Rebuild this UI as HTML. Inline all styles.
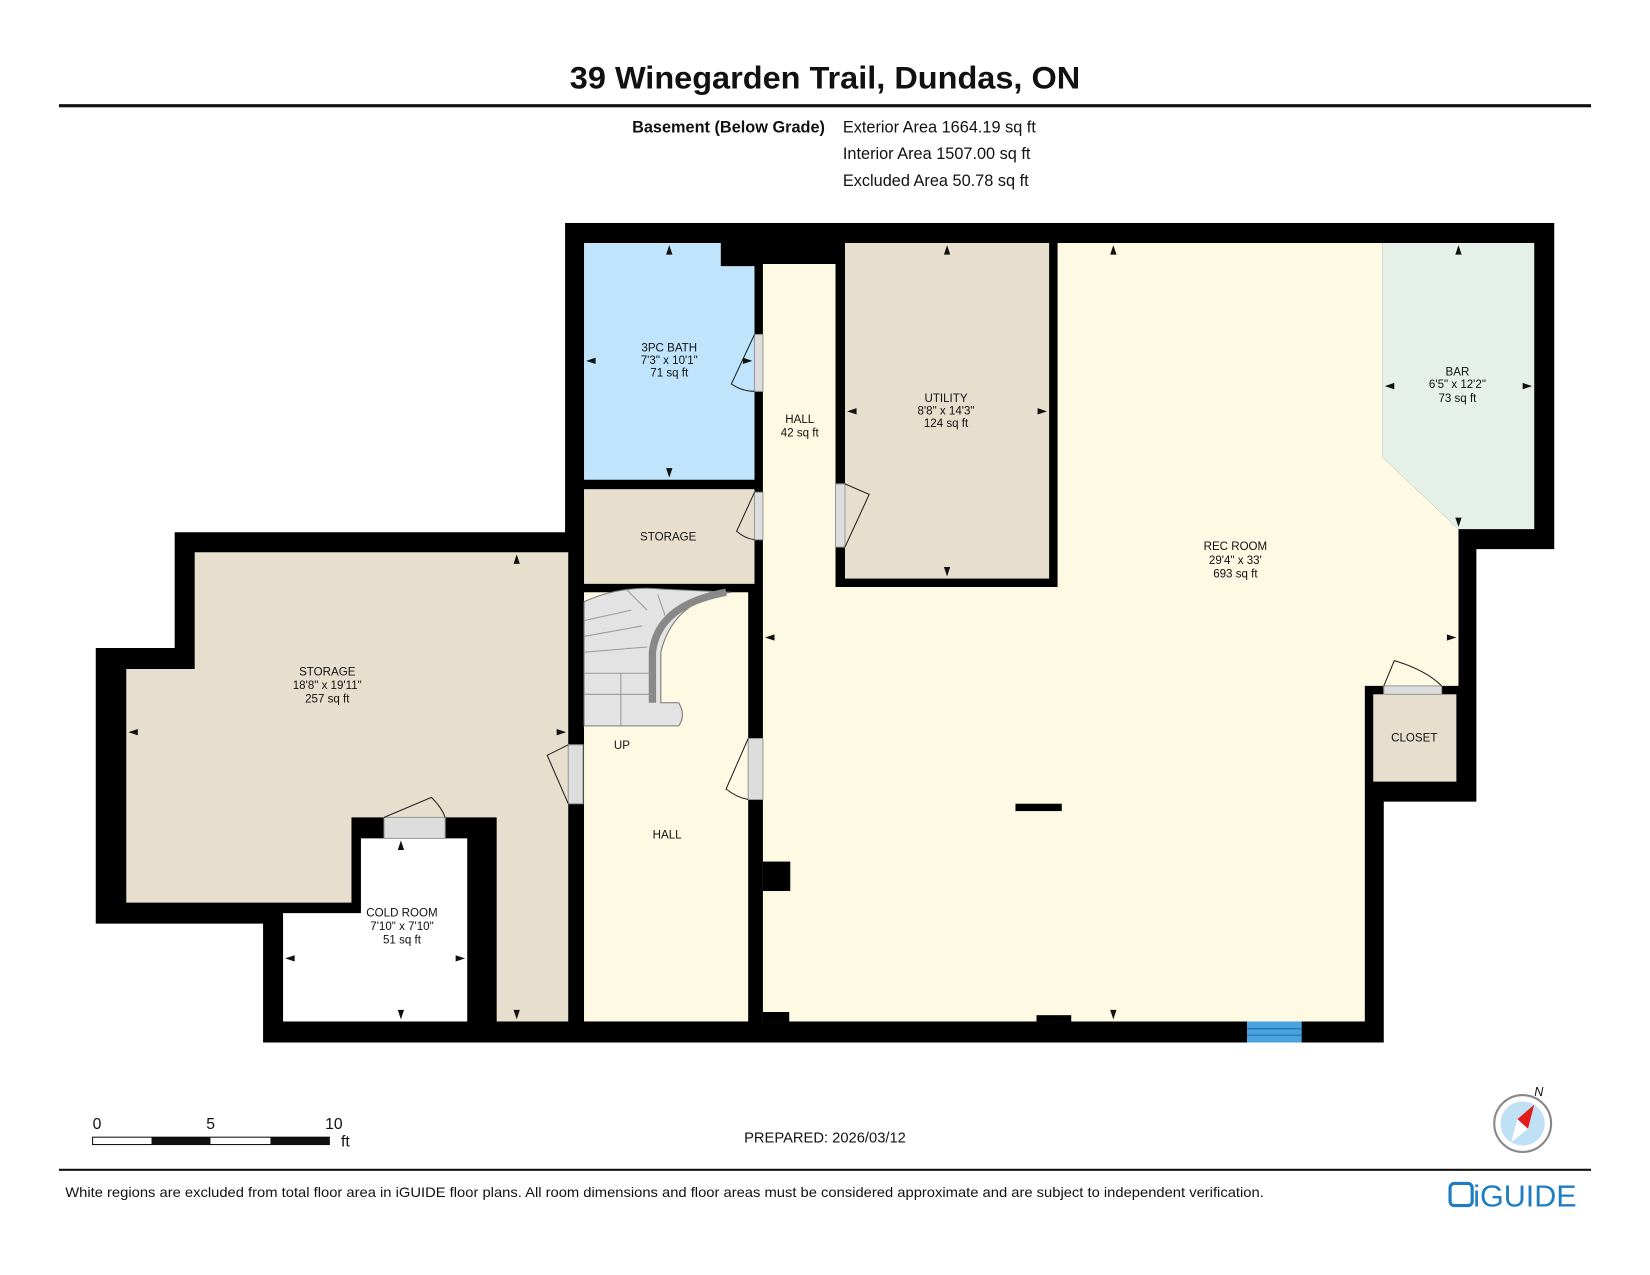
<!DOCTYPE html>
<html><head><meta charset="utf-8"><style>
html,body{margin:0;padding:0;background:#fff;}
svg{display:block;}
text{font-family:"Liberation Sans",sans-serif;fill:#111;}
</style></head><body>
<svg width="1650" height="1275" viewBox="0 0 1568 1212" preserveAspectRatio="none" xmlns="http://www.w3.org/2000/svg">
<rect width="1568" height="1212" fill="#fff"/>
<text x="784" y="84" font-size="30" font-weight="bold" text-anchor="middle" textLength="485" lengthAdjust="spacingAndGlyphs">39 Winegarden Trail, Dundas, ON</text>
<rect x="56" y="99" width="1456" height="3" fill="#111"/>
<text x="784" y="126" font-size="15.5" font-weight="bold" text-anchor="end">Basement (Below Grade)</text>
<text x="801" y="126" font-size="15.5">Exterior Area 1664.19 sq ft</text>
<text x="801" y="151" font-size="15.5">Interior Area 1507.00 sq ft</text>
<text x="801" y="177" font-size="15.5">Excluded Area 50.78 sq ft</text>

<polygon fill="#000" points="537,212 1477,212 1477,522 1403,522 1403,762 1315,762 1315,991 250,991 250,878 91,878 91,616 166,616 166,506 537,506"/>
<polygon fill="#bfe4fb" points="555,231 685,231 685,253 717,253 717,456 555,456"/>
<rect x="555" y="465" width="162" height="90" fill="#e8dece"/>
<rect x="803" y="231" width="194" height="319" fill="#e8dece"/>
<polygon fill="#fef9e3" points="725,251 794,251 794,558 1005,558 1005,231 1314,231 1314,435 1386,503 1386,652 1297,652 1297,971 725,971"/>
<polygon fill="#e5f0e8" points="1314,231 1458,231 1458,503 1386,503 1314,435"/>
<rect x="1305" y="660" width="79" height="83" fill="#e8dece"/>
<polygon fill="#e8dece" points="120,636 185,636 185,525 540,525 540,971 472,971 472,777 334,777 334,858 120,858"/>
<polygon fill="#fff" points="343,797 444,797 444,971 269,971 269,868 343,868"/>
<rect x="555" y="563" width="156" height="408" fill="#fef9e3"/>
<path d="M555,572 Q590,556 630,560 L695,563 Q640,570 628,620 L628,668 L645,668 Q652,680 645,690 L555,690 Z" fill="#e3e3e3" stroke="#777" stroke-width="1"/>
<path d="M620,668 L620,620 Q625,575 690,563" fill="none" stroke="#888" stroke-width="7"/>
<g stroke="#999" stroke-width="1" fill="none">
<line x1="555" y1="590" x2="600" y2="580"/><line x1="555" y1="605" x2="610" y2="595"/>
<line x1="555" y1="620" x2="615" y2="615"/><line x1="555" y1="640" x2="620" y2="640"/>
<line x1="555" y1="660" x2="620" y2="660"/><line x1="590" y1="640" x2="590" y2="690"/>
<line x1="595" y1="560" x2="615" y2="580"/><line x1="625" y1="565" x2="632" y2="585"/>
</g>
<rect x="965" y="764" width="44" height="7" fill="#000"/>
<rect x="725" y="819" width="26" height="28" fill="#000"/>
<rect x="725" y="962" width="25" height="9" fill="#000"/>
<rect x="985" y="965" width="33" height="6" fill="#000"/>
<rect x="1185" y="971" width="52" height="20" fill="#4aa3df"/>
<g stroke="#1c6aa5" stroke-width="1"><line x1="1185" y1="978" x2="1237" y2="978"/><line x1="1185" y1="984" x2="1237" y2="984"/></g>
<g fill="#ddd" stroke="#999" stroke-width="1">
<rect x="717" y="318" width="8" height="54"/><rect x="717" y="468" width="8" height="45"/>
<rect x="794" y="460" width="9" height="60"/><rect x="540" y="708" width="14" height="56"/>
<rect x="711" y="702" width="14" height="58"/><rect x="365" y="777" width="58" height="20"/>
<rect x="1315" y="652" width="55" height="8"/>
</g>
<g fill="none" stroke="#222" stroke-width="1">
<path d="M717,318 L695,365 Q705,372 717,372"/><path d="M717,468 L700,505 Q708,512 717,513"/>
<path d="M803,460 L826,470 L803,520"/><path d="M540,708 L520,718 L540,764"/>
<path d="M711,702 L690,750 Q700,758 711,760"/><path d="M365,777 L410,758 Q420,768 423,777"/>
<path d="M1315,652 L1325,628 Q1355,637 1370,652"/>
</g>
<g font-size="11" text-anchor="middle">
<text x="636" y="334">3PC BATH</text><text x="636" y="346">7'3" x 10'1"</text><text x="636" y="358">71 sq ft</text>
<text x="635" y="514">STORAGE</text>
<text x="760" y="402">HALL</text><text x="760" y="415">42 sq ft</text>
<text x="899" y="382">UTILITY</text><text x="899" y="394">8'8" x 14'3"</text><text x="899" y="406">124 sq ft</text>
<text x="1385" y="357">BAR</text><text x="1385" y="369">6'5" x 12'2"</text><text x="1385" y="382">73 sq ft</text>
<text x="1174" y="523">REC ROOM</text><text x="1174" y="536">29'4" x 33'</text><text x="1174" y="549">693 sq ft</text>
<text x="1344" y="705">CLOSET</text>
<text x="311" y="642">STORAGE</text><text x="311" y="655">18'8" x 19'11"</text><text x="311" y="668">257 sq ft</text>
<text x="591" y="712">UP</text><text x="634" y="797">HALL</text>
<text x="382" y="871">COLD ROOM</text><text x="382" y="884">7'10" x 7'10"</text><text x="382" y="897">51 sq ft</text>
</g>
<g fill="#111">
<path d="M636,233 l-3,9 h6z"/><path d="M636,454 l-3,-9 h6z"/><path d="M557,343 l9,-3 v6z"/><path d="M715,343 l-9,-3 v6z"/>
<path d="M900,233 l-3,9 h6z"/><path d="M900,548 l-3,-9 h6z"/><path d="M805,391 l9,-3 v6z"/><path d="M995,391 l-9,-3 v6z"/>
<path d="M1386,233 l-3,9 h6z"/><path d="M1386,501 l-3,-9 h6z"/><path d="M1316,367 l9,-3 v6z"/><path d="M1456,367 l-9,-3 v6z"/>
<path d="M1058,233 l-3,9 h6z"/><path d="M1058,969 l-3,-9 h6z"/><path d="M727,606 l9,-3 v6z"/><path d="M1384,606 l-9,-3 v6z"/>
<path d="M491,527 l-3,9 h6z"/><path d="M491,969 l-3,-9 h6z"/><path d="M122,696 l9,-3 v6z"/><path d="M538,696 l-9,-3 v6z"/>
<path d="M381,799 l-3,9 h6z"/><path d="M381,969 l-3,-9 h6z"/><path d="M271,911 l9,-3 v6z"/><path d="M442,911 l-9,-3 v6z"/>
</g>
<g font-size="15"><text x="88" y="1073">0</text><text x="196" y="1073">5</text><text x="309" y="1073">10</text><text x="324" y="1090">ft</text></g>
<rect x="88" y="1081" width="225" height="7" fill="#fff" stroke="#111" stroke-width="1"/>
<rect x="144" y="1081" width="56" height="7" fill="#111"/><rect x="257" y="1081" width="56" height="7" fill="#111"/>
<text x="784" y="1086" font-size="14" text-anchor="middle">PREPARED: 2026/03/12</text>
<circle cx="1447" cy="1068" r="27" fill="#fff" stroke="#888" stroke-width="2"/>
<circle cx="1447" cy="1068" r="21" fill="#bfe0f5"/>
<polygon points="1458,1050 1442,1064 1452,1073" fill="#e21b1b"/><polygon points="1436,1086 1442,1064 1452,1073" fill="#fff"/>
<text x="1458" y="1042" font-size="12" font-style="italic">N</text>
<rect x="56" y="1111" width="1456" height="2" fill="#111"/>
<text x="62" y="1138" font-size="13" textLength="1139" lengthAdjust="spacingAndGlyphs">White regions are excluded from total floor area in iGUIDE floor plans. All room dimensions and floor areas must be considered approximate and are subject to independent verification.</text>
<rect x="1378" y="1125" width="21" height="21" rx="4" fill="none" stroke="#1f7ec2" stroke-width="3"/>
<text x="1400" y="1147" font-size="29" style="fill:#1f7ec2">iGUIDE</text>
</svg>
</body></html>
